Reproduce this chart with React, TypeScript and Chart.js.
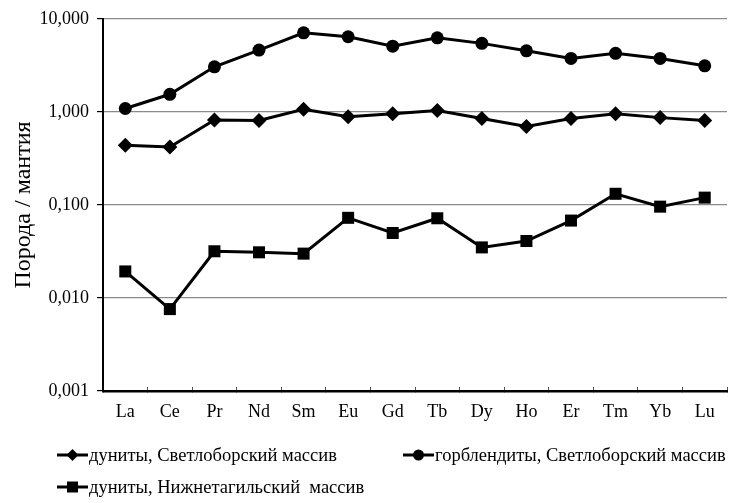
import React, { useEffect, useRef } from "react";
import { Chart, registerables } from "chart.js";

Chart.register(...registerables);

const categories = ["La", "Ce", "Pr", "Nd", "Sm", "Eu", "Gd", "Tb", "Dy", "Ho", "Er", "Tm", "Yb", "Lu"];

const dunitesSvetlobor = [0.44, 0.42, 0.82, 0.81, 1.07, 0.89, 0.96, 1.04, 0.85, 0.7, 0.85, 0.96, 0.87, 0.81];
const hornblenditesSvetlobor = [1.09, 1.55, 3.06, 4.63, 7.1, 6.44, 5.1, 6.28, 5.47, 4.55, 3.77, 4.27, 3.77, 3.14];
const dunitesNizhnetagil = [0.0193, 0.0076, 0.0318, 0.031, 0.03, 0.0728, 0.05, 0.072, 0.035, 0.041, 0.068, 0.132, 0.096, 0.12];

const seriesLabels = [
  "дуниты, Светлоборский массив",
  "горблендиты, Светлоборский массив",
  "дуниты, Нижнетагильский  массив",
];

const yTickValues = [0.001, 0.01, 0.1, 1, 10];
const yTickLabels = ["0,001", "0,010", "0,100", "1,000", "10,000"];

const yTitle = "Порода / мантия";

const FONT = "'Liberation Serif', 'Times New Roman', serif";

const legendPlugin = {
  id: "customLegend",
  afterDraw(chart: any, _args: any, opts: any) {
    const ctx = chart.ctx;
    const items = opts.items || [];
    ctx.save();
    chart.data.datasets.forEach((ds: any, i: number) => {
      const it = items[i];
      if (!it) return;
      const x0 = it.x;
      const y0 = it.y;
      const w = 31;
      ctx.strokeStyle = "#000";
      ctx.lineWidth = 3;
      ctx.beginPath();
      ctx.moveTo(x0, y0);
      ctx.lineTo(x0 + w, y0);
      ctx.stroke();
      ctx.fillStyle = "#000";
      const cx = x0 + w / 2;
      const st = ds.pointStyle;
      ctx.beginPath();
      if (st === "circle") {
        ctx.arc(cx, y0, 5.5, 0, Math.PI * 2);
      } else if (st === "rectRot") {
        ctx.moveTo(cx, y0 - 6);
        ctx.lineTo(cx + 6, y0);
        ctx.lineTo(cx, y0 + 6);
        ctx.lineTo(cx - 6, y0);
        ctx.closePath();
      } else {
        ctx.rect(cx - 5.5, y0 - 5.5, 11, 11);
      }
      ctx.fill();
      ctx.font = `18.5px ${FONT}`;
      ctx.textAlign = "left";
      ctx.textBaseline = "middle";
      ctx.fillText(ds.label, x0 + w + 1, y0 + 1);
    });
    ctx.restore();
  },
};

export default function App() {
  const ref = useRef<HTMLCanvasElement | null>(null);

  useEffect(() => {
    if (!ref.current) return;
    const mk = (label: string, data: number[], pointStyle: string, radius: number) => ({
      label,
      data,
      borderColor: "#000",
      backgroundColor: "#000",
      borderWidth: 3,
      pointStyle,
      pointRadius: radius,
      pointBackgroundColor: "#000",
      pointBorderColor: "#000",
      pointBorderWidth: 0,
      tension: 0,
      clip: false as any,
    });
    const chart = new Chart(ref.current, {
      type: "line",
      data: {
        labels: categories,
        datasets: [
          mk(seriesLabels[0], dunitesSvetlobor, "rectRot", 7.5),
          mk(seriesLabels[1], hornblenditesSvetlobor, "circle", 6.5),
          mk(seriesLabels[2], dunitesNizhnetagil, "rect", 8.5),
        ],
      },
      plugins: [legendPlugin],
      options: {
        animation: false,
        responsive: false,
        devicePixelRatio: 1,
        layout: { autoPadding: false, padding: { top: 19, right: 2, left: 0, bottom: 0 } },
        plugins: {
          legend: { display: false },
          tooltip: { enabled: false },
          customLegend: {
            items: [
              { x: 57, y: 455 },
              { x: 403, y: 455 },
              { x: 57, y: 487 },
            ],
          },
        } as any,
        scales: {
          x: {
            type: "category",
            offset: true,
            border: { display: true, color: "#000", width: 2.5 },
            grid: {
              display: true,
              offset: true,
              drawOnChartArea: false,
              drawTicks: true,
              tickLength: -4,
              tickColor: "#555",
              tickWidth: 1,
            },
            ticks: {
              color: "#000",
              font: { family: FONT, size: 18 },
              padding: 14,
              maxRotation: 0,
              autoSkip: false,
            },
            afterFit: (s: any) => {
              s.height = 112;
              s.paddingLeft = 0;
              s.paddingRight = 0;
            },
          },
          y: {
            type: "logarithmic",
            min: 0.001,
            max: 10,
            border: { display: true, color: "#000", width: 2 },
            grid: {
              color: "#8a8a8a",
              lineWidth: 1.2,
              tickColor: "#000",
              tickLength: 6,
              drawTicks: true,
            },
            afterBuildTicks: (s: any) => {
              s.ticks = yTickValues.map((v) => ({ value: v }));
            },
            ticks: {
              color: "#000",
              font: { family: FONT, size: 18 },
              padding: 8,
              callback: (v: any) => {
                const i = yTickValues.findIndex((t) => Math.abs(t - Number(v)) < 1e-9);
                return i >= 0 ? yTickLabels[i] : "";
              },
            },
            title: {
              display: true,
              text: yTitle,
              color: "#000",
              font: { family: FONT, size: 24 },
              padding: { top: 9, bottom: 0 },
            },
            afterFit: (s: any) => {
              s.width = 103;
            },
          },
        },
      },
    });
    return () => chart.destroy();
  }, []);

  return (
    <div style={{ position: "fixed", left: 0, top: 0, width: 729, height: 503, background: "#fff" }}>
      <canvas ref={ref} width={729} height={503} style={{ display: "block" }} />
    </div>
  );
}
